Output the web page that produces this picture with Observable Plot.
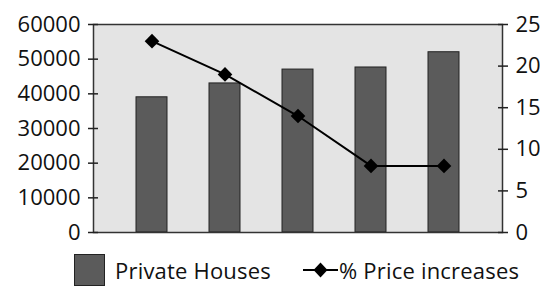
<!DOCTYPE html>
<html>
<head>
<meta charset="utf-8">
<script src="https://cdn.jsdelivr.net/npm/d3@7"></script>
<script src="https://cdn.jsdelivr.net/npm/@observablehq/plot@0.6"></script>
<style>
  html, body { margin: 0; padding: 0; background: #fff; }
  body { width: 540px; height: 286px; overflow: hidden; font-family: "Open Sans", sans-serif; }
  #legend { position: relative; height: 36px; font-size: 22px; color: #111; }
  .item { position: absolute; top: 4px; display: flex; align-items: center; height: 32px; }
  .swatch { width: 31px; height: 32px; background: #5b5b5b; border: 1px solid #222; box-sizing: border-box; margin-right: 10px; }
</style>
</head>
<body>
<div id="chart"></div>
<div id="legend">
  <div class="item" style="left:74px"><div class="swatch"></div><span style="letter-spacing:0.2px">Private Houses</span></div>
  <div class="item" style="left:303px"><svg width="35" height="20" style="margin-right:1px"><line x1="0" y1="10" x2="35" y2="10" stroke="#000" stroke-width="2"/><path d="M17.5,2.5L24.5,10L17.5,17.5L10.5,10Z" fill="#000"/></svg><span style="letter-spacing:0.2px">% Price increases</span></div>
</div>
<script>
const categories = ["1", "2", "3", "4", "5"];
const privateHouses = [39000, 43000, 47000, 47600, 52000];
const priceIncreases = [23, 19, 14, 8, 8];
const leftTicks = [0, 10000, 20000, 30000, 40000, 50000, 60000];
const rightTicks = [0, 5, 10, 15, 20, 25];

const factor = 60000 / 25;
const bars = categories.map((c, i) => ({c, v: privateHouses[i]}));
const pts = categories.map((c, i) => ({c, v: priceIncreases[i] * factor}));

const chart = Plot.plot({
  width: 540,
  height: 250,
  marginLeft: 93,
  marginRight: 38,
  marginTop: 24,
  marginBottom: 18,
  style: {fontFamily: "Open Sans, sans-serif", fontSize: "22px", color: "#111", background: "transparent", overflow: "visible"},
  x: {type: "band", domain: categories, padding: 0.58, axis: null},
  y: {domain: [0, 60000]},
  marks: [
    Plot.frame({fill: "#e4e4e4"}),
    Plot.barY(bars, {x: "c", y: "v", fill: "#5b5b5b", stroke: "#222", strokeWidth: 1}),
    Plot.line(pts, {x: "c", y: "v", stroke: "#000", strokeWidth: 2}),
    Plot.dot(pts, {x: "c", y: "v", symbol: "diamond2", r: 6.6, fill: "#000"}),
    Plot.frame({stroke: "#333", strokeWidth: 1.5}),
    Plot.axisY({anchor: "left", ticks: leftTicks, tickSize: 10, dx: 5, tickPadding: 8, tickFormat: d => String(d), label: null, stroke: "#222", strokeWidth: 1.5}),
    Plot.axisY({anchor: "right", ticks: rightTicks.map(t => t * factor), tickSize: 10, dx: -5, tickPadding: 8, tickFormat: d => String(Math.round(d / factor)), label: null, stroke: "#222", strokeWidth: 1.5})
  ]
});
document.getElementById("chart").appendChild(chart);
</script>
</body>
</html>
